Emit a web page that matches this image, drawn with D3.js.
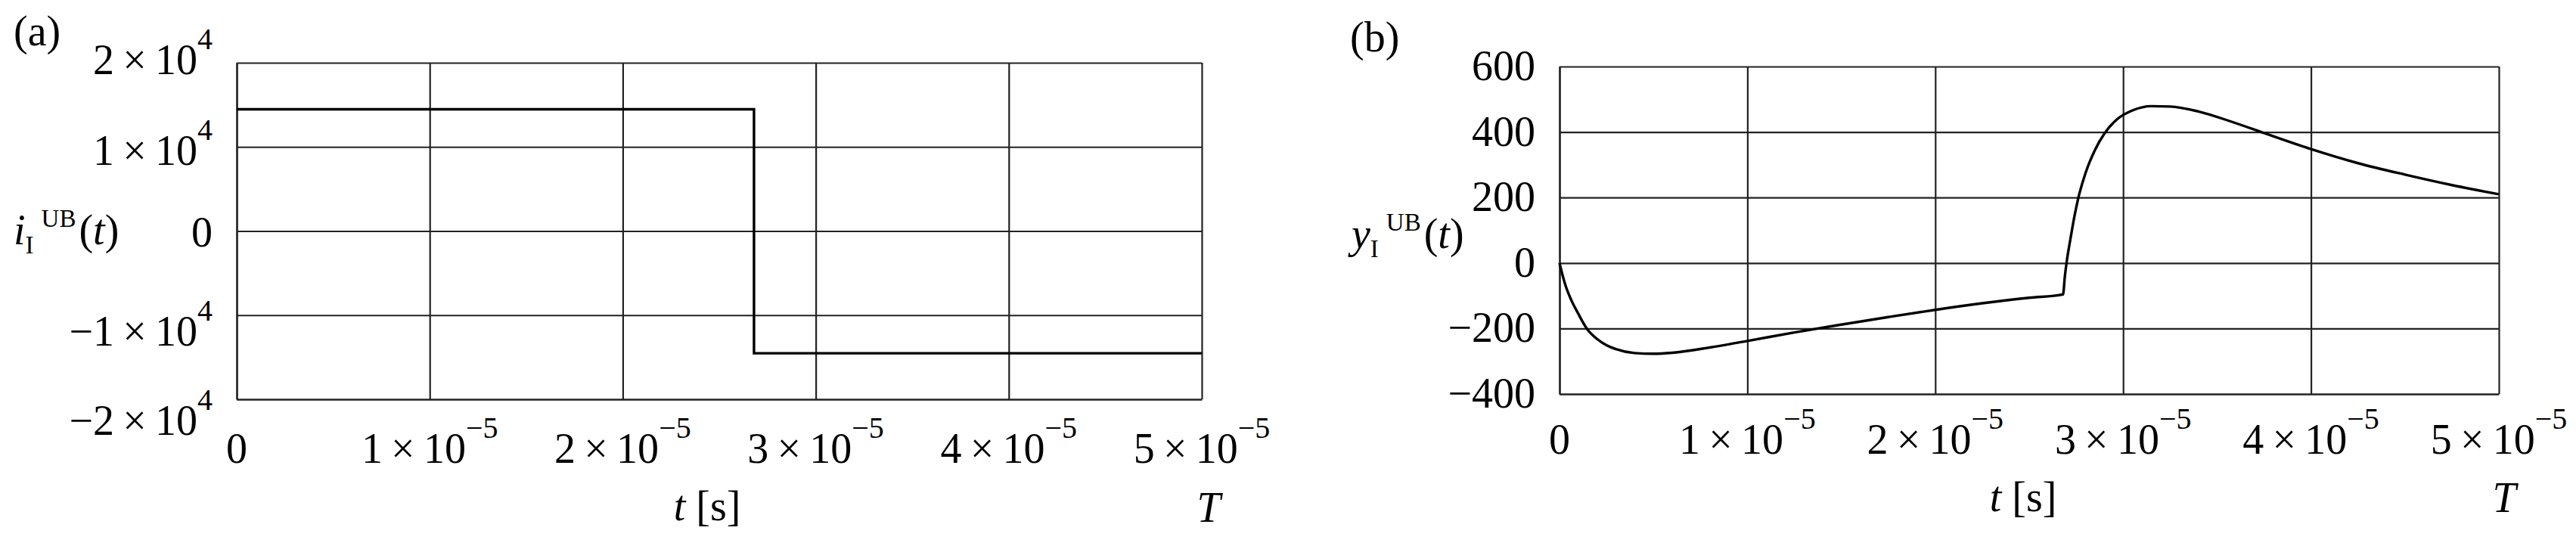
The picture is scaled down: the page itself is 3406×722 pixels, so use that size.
<!DOCTYPE html>
<html><head><meta charset="utf-8">
<script src="https://cdn.jsdelivr.net/npm/d3@7"></script>
<style>html,body{margin:0;padding:0;background:#fff;} svg{display:block;}</style>
</head><body>
<script>
// ---------- data ----------
const xTicks = [0, 1e-5, 2e-5, 3e-5, 4e-5, 5e-5];
const xTickExp = -5;
const yTicksA = [-2e4, -1e4, 0, 1e4, 2e4];
const yTickExpA = 4;
const yTicksB = [-400, -200, 0, 200, 400, 600];

// panel (a): i_I^UB(t), piecewise constant
const stepT = [0, 2.68e-5, 2.68e-5, 5e-5];
const stepI = [14470, 14470, -14530, -14530];

// panel (b): y_I^UB(t)
const curveT = [0, 0.03, 0.06, 0.1, 0.145, 0.2, 0.25, 0.3, 0.4, 0.5, 0.6, 0.8, 1.0, 1.25, 1.5, 1.75, 2.0, 2.25, 2.5, 2.68,
                2.69, 2.70, 2.72, 2.74, 2.76, 2.8, 2.85, 2.9, 2.97, 3.05, 3.15, 3.25, 3.4, 3.575, 3.75, 4.0, 4.25, 4.5, 4.75, 5.0].map(v => v * 1e-5);
const curveY = [0, -65, -110, -155, -200, -232, -251, -263, -275, -277, -274, -258, -238, -212, -188, -165, -143, -123, -106, -96,
                -40, 5, 75, 140, 195, 275, 345, 395, 440, 466, 479, 478, 463, 432, 397, 348, 305, 270, 238, 210];

// ---------- layout ----------
const W = 3406, H = 722;
const FONT = "'Liberation Serif', 'Times New Roman', serif";
const FS = 56, FS_SUP = 40, FS_AX = 33;
const leftNudgeA = {"-20000": 47, "-10000": 40, "0": 20, "10000": 24, "20000": 15};

const svg = d3.select("body").append("svg").attr("width", W).attr("height", H)
  .attr("font-family", FONT).attr("fill", "#000");

function sciParts(sel, v, exp) {
  if (v === 0) { sel.append("tspan").text("0"); return; }
  const m = Math.round(v / Math.pow(10, exp));
  sel.append("tspan").text((m < 0 ? "\u2212" : "") + Math.abs(m) + "\u2009\u00d7\u200910");
  sel.append("tspan").attr("font-size", FS_SUP).attr("dy", -33)
     .text(exp < 0 ? "\u2212" + (-exp) : String(exp));
}

function panel(opt) {
  const x = d3.scaleLinear().domain([0, 5e-5]).range([opt.x0, opt.x1]);
  const y = d3.scaleLinear().domain(opt.yDomain).range([opt.y1, opt.y0]);
  const g = svg.append("g");
  const h = opt.y1 - opt.y0, w = opt.x1 - opt.x0;

  g.append("g").attr("transform", `translate(0,${opt.y1})`)
    .call(d3.axisBottom(x).tickValues(xTicks).tickSize(-h).tickSizeOuter(0).tickFormat(""));
  g.append("g").attr("transform", `translate(${opt.x0},0)`)
    .call(d3.axisLeft(y).tickValues(opt.yTicks).tickSize(-w).tickSizeOuter(0).tickFormat(""));
  g.selectAll(".tick line, .domain").attr("stroke", "#222").attr("stroke-width", 2.2).attr("shape-rendering", "auto");

  g.append("path").datum(opt.data)
    .attr("d", d3.line().x(d => x(d[0])).y(d => y(d[1])).curve(opt.curve))
    .attr("fill", "none").attr("stroke", "#000").attr("stroke-width", 3.4).attr("stroke-linejoin", "miter");

  xTicks.forEach(v => {
    const t = g.append("text").attr("x", x(v)).attr("y", opt.y1 + opt.xLabDy)
      .attr("text-anchor", "middle").attr("font-size", FS);
    sciParts(t, v, xTickExp);
  });
  opt.yTicks.forEach(v => {
    const t = g.append("text").attr("x", opt.x0 - 32).attr("y", y(v) + opt.yNudge(v))
      .attr("text-anchor", "end").attr("font-size", FS);
    if (opt.yExp != null) sciParts(t, v, opt.yExp);
    else t.text(v < 0 ? "\u2212" + (-v) : String(v));
  });
  return {x, y};
}

panel({
  x0: 313, x1: 1589, y0: 83, y1: 528, yDomain: [-2e4, 2e4], yTicks: yTicksA, yExp: yTickExpA,
  yNudge: v => leftNudgeA[String(v)], xLabDy: 84,
  data: stepT.map((t, i) => [t, stepI[i]]), curve: d3.curveLinear
});
panel({
  x0: 2062, x1: 3304, y0: 88, y1: 521, yDomain: [-400, 600], yTicks: yTicksB, yExp: null,
  yNudge: v => 18, xLabDy: 79,
  data: curveT.map((t, i) => [t, curveY[i]]), curve: d3.curveMonotoneX
});

svg.append("text").attr("x", 18).attr("y", 60).attr("font-size", FS).text("(a)");
svg.append("text").attr("x", 1785).attr("y", 68).attr("font-size", FS).text("(b)");

function yTitle(xx, yy, letter) {
  const t = svg.append("text").attr("x", xx).attr("y", yy).attr("font-size", FS);
  t.append("tspan").attr("font-style", "italic").text(letter);
  t.append("tspan").attr("font-size", FS_AX).attr("dy", 12).text("I");
  t.append("tspan").attr("font-size", FS_AX).attr("dy", -35).attr("dx", 10).text("UB");
  t.append("tspan").attr("dy", 23).attr("dx", 4).text("(");
  t.append("tspan").attr("font-style", "italic").text("t");
  t.append("tspan").text(")");
}
yTitle(18, 323, "i");
yTitle(1787, 328, "y");

function xTitle(cx, yy) {
  const t = svg.append("text").attr("x", cx).attr("y", yy).attr("font-size", FS).attr("text-anchor", "middle");
  t.append("tspan").attr("font-style", "italic").text("t");
  t.append("tspan").text(" [s]");
}
xTitle(935, 688);
xTitle(2675, 676);
svg.append("text").attr("x", 1598).attr("y", 690).attr("font-size", FS).attr("text-anchor", "middle")
  .attr("font-style", "italic").text("T");
svg.append("text").attr("x", 3311).attr("y", 677).attr("font-size", FS).attr("text-anchor", "middle")
  .attr("font-style", "italic").text("T");
</script>
</body></html>
